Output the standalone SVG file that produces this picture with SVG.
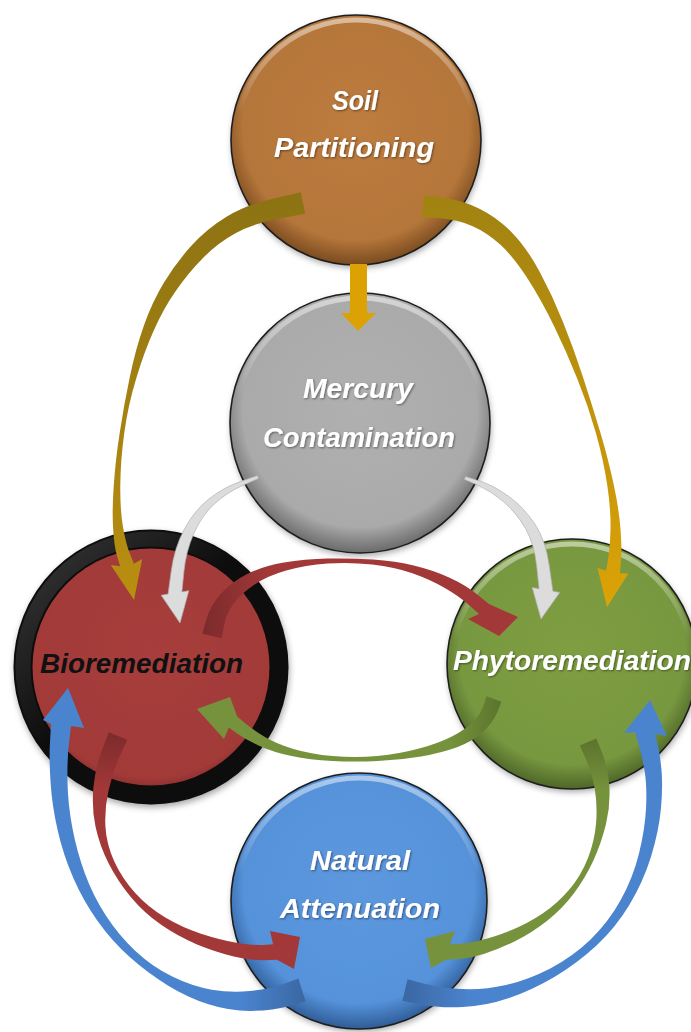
<svg xmlns="http://www.w3.org/2000/svg" width="691" height="1032" viewBox="0 0 691 1032">
<defs>
<filter id="sh" x="-20%" y="-20%" width="140%" height="140%"><feDropShadow dx="1" dy="3" stdDeviation="3" flood-color="#000" flood-opacity="0.35"/></filter>
<filter id="ts" x="-10%" y="-30%" width="120%" height="160%"><feDropShadow dx="1" dy="1" stdDeviation="1" flood-color="#000" flood-opacity="0.45"/></filter>
<radialGradient id="gSoil" cx="50%" cy="45%" r="55%"><stop offset="0" stop-color="#BD7C3F"/><stop offset="0.82" stop-color="#B5763A"/><stop offset="1" stop-color="#7A4B20"/></radialGradient>
<radialGradient id="gMerc" cx="50%" cy="45%" r="55%"><stop offset="0" stop-color="#B0B0B0"/><stop offset="0.82" stop-color="#AAAAAA"/><stop offset="1" stop-color="#6A6A6A"/></radialGradient>
<radialGradient id="gBio" cx="50%" cy="45%" r="55%"><stop offset="0" stop-color="#A73D3C"/><stop offset="0.88" stop-color="#A23A39"/><stop offset="1" stop-color="#7A2828"/></radialGradient>
<radialGradient id="gPhy" cx="50%" cy="45%" r="55%"><stop offset="0" stop-color="#7F9E42"/><stop offset="0.82" stop-color="#789840"/><stop offset="1" stop-color="#4E6628"/></radialGradient>
<radialGradient id="gNat" cx="50%" cy="45%" r="55%"><stop offset="0" stop-color="#5D98DE"/><stop offset="0.82" stop-color="#5592DA"/><stop offset="1" stop-color="#2F5C96"/></radialGradient>
<linearGradient id="hl" x1="0" y1="0" x2="0" y2="1"><stop offset="0" stop-color="#fff" stop-opacity="0.5"/><stop offset="0.4" stop-color="#fff" stop-opacity="0"/></linearGradient>
<linearGradient id="ringHl" x1="0" y1="0" x2="1" y2="1"><stop offset="0" stop-color="#fff" stop-opacity="0.18"/><stop offset="0.45" stop-color="#fff" stop-opacity="0"/></linearGradient>
<linearGradient id="goldL" gradientUnits="userSpaceOnUse" x1="0" y1="190" x2="0" y2="600"><stop offset="0" stop-color="#8C7213"/><stop offset="1" stop-color="#B98F10"/></linearGradient>
<linearGradient id="goldR" gradientUnits="userSpaceOnUse" x1="0" y1="190" x2="0" y2="610"><stop offset="0" stop-color="#A08212"/><stop offset="1" stop-color="#DDA306"/></linearGradient>
<linearGradient id="redF" gradientUnits="userSpaceOnUse" x1="200" y1="0" x2="270" y2="0"><stop offset="0" stop-color="#7A2A2B"/><stop offset="1" stop-color="#A33838"/></linearGradient>
<linearGradient id="redH" gradientUnits="userSpaceOnUse" x1="0" y1="730" x2="0" y2="790"><stop offset="0" stop-color="#7A2A2B"/><stop offset="1" stop-color="#A33838"/></linearGradient>
<linearGradient id="grnG" gradientUnits="userSpaceOnUse" x1="500" y1="0" x2="450" y2="0"><stop offset="0" stop-color="#5B752D"/><stop offset="1" stop-color="#76923C"/></linearGradient>
<linearGradient id="grnI" gradientUnits="userSpaceOnUse" x1="0" y1="740" x2="0" y2="790"><stop offset="0" stop-color="#5B752D"/><stop offset="1" stop-color="#76923C"/></linearGradient>
<linearGradient id="bluJ" gradientUnits="userSpaceOnUse" x1="310" y1="0" x2="240" y2="0"><stop offset="0" stop-color="#3A65A0"/><stop offset="1" stop-color="#4A84CF"/></linearGradient>
<linearGradient id="bluK" gradientUnits="userSpaceOnUse" x1="400" y1="0" x2="470" y2="0"><stop offset="0" stop-color="#3A65A0"/><stop offset="1" stop-color="#4A84CF"/></linearGradient>
</defs>
<style>
.rim{fill:none;stroke:#1e1e1e;stroke-width:1.6}
.hl{fill:none;stroke:url(#hl);stroke-width:5}
.lbl{font-family:"Liberation Sans",Arial,sans-serif;font-weight:bold;font-style:italic;font-size:27px;text-anchor:middle;fill:#fff;filter:url(#ts)}
.dark{fill:#111;filter:none}
.gray{fill:#DCDCDC;stroke:#B0B0B0;stroke-width:0.7}
.arr{stroke-linejoin:round}
</style>
<rect width="691" height="1032" fill="#fff"/>

<g id="soil">
<circle cx="356" cy="140" r="125" fill="url(#gSoil)" filter="url(#sh)"/>
<circle cx="356" cy="140" r="120" class="hl"/>
<circle cx="356" cy="140" r="125" class="rim"/>
<text class="lbl" x="355" y="110" textLength="46" lengthAdjust="spacingAndGlyphs">Soil</text>
<text class="lbl" x="354" y="157" textLength="160" lengthAdjust="spacingAndGlyphs">Partitioning</text>
</g>

<g id="mercury">
<circle cx="360" cy="423" r="130" fill="url(#gMerc)" filter="url(#sh)"/>
<circle cx="360" cy="423" r="125" class="hl"/>
<circle cx="360" cy="423" r="130" class="rim"/>
<text class="lbl" x="358" y="398" textLength="110" lengthAdjust="spacingAndGlyphs">Mercury</text>
<text class="lbl" x="359" y="447" textLength="192" lengthAdjust="spacingAndGlyphs">Contamination</text>
</g>

<g id="bioremediation">
<circle cx="151" cy="667" r="128" fill="url(#gBio)" stroke="#0c0c0c" stroke-width="19" filter="url(#sh)"/>
<circle cx="151" cy="667" r="128" fill="none" stroke="url(#ringHl)" stroke-width="15"/>
<text class="lbl dark" x="141.5" y="673" textLength="203" lengthAdjust="spacingAndGlyphs">Bioremediation</text>
</g>

<g id="phytoremediation">
<circle cx="572" cy="664" r="125" fill="url(#gPhy)" filter="url(#sh)"/>
<circle cx="572" cy="664" r="120" class="hl"/>
<circle cx="572" cy="664" r="125" class="rim"/>
<text class="lbl" x="572" y="670" textLength="238" lengthAdjust="spacingAndGlyphs">Phytoremediation</text>
</g>

<g id="natural_attenuation">
<circle cx="359" cy="901" r="128" fill="url(#gNat)" filter="url(#sh)"/>
<circle cx="359" cy="901" r="123" class="hl"/>
<circle cx="359" cy="901" r="128" class="rim"/>
<text class="lbl" x="360" y="870" textLength="100" lengthAdjust="spacingAndGlyphs">Natural</text>
<text class="lbl" x="360" y="918" textLength="160" lengthAdjust="spacingAndGlyphs">Attenuation</text>
</g>

<g id="connectors">
<path id="soil-mercury" fill="#DCA204" d="M350 264 L367 264 L367 313 L376 313 L358 331 L341 313 L350 313 Z"/>
<path id="soil-bio" class="arr" fill="url(#goldL)" d="M300.8 192.2 L273.7 198.4 Q246.6 204.6 226.5 216.8 Q206.4 229 191.1 246.1 Q175.7 263.1 164 282.6 Q152.2 302 144 325.3 Q135.7 348.6 129.9 376.6 Q124 404.6 119.8 432.2 Q115.5 459.8 113.8 485 Q112 510.1 113.1 528.2 Q114.1 546.2 117.1 556.3 L120.1 566.3 L110.8 564.9 L134 600 L142.2 559.1 L133.9 563.7 L129.9 553.8 Q125.9 543.8 123 526.9 Q120 509.9 120.3 485.1 Q120.5 460.2 124.3 432.8 Q128 405.4 136.2 378.4 Q144.3 351.4 154.1 329.7 Q163.8 308 176.1 290.5 Q188.3 272.9 203 258 Q217.6 243 235.5 233.2 Q253.4 223.4 279.3 218.6 L305.2 213.8 Z"/>
<path id="soil-phyto" class="arr" fill="url(#goldR)" d="M421.8 216.9 L439.6 218.3 Q457.4 219.6 472.1 226 Q486.8 232.4 500.2 244.6 Q513.6 256.8 527.7 278.8 Q541.7 300.7 554 326.1 Q566.3 351.5 577.2 378.6 Q588.1 405.6 595.9 433.1 Q603.6 460.6 607.3 485.6 Q611 510.5 610.5 529.2 Q610 547.8 608.1 559.3 L606.1 570.8 L597.5 568 L607 607 L628.5 573.5 L619.9 573.2 L621 560.7 Q622 548.2 620.5 528.9 Q619 509.5 613.7 484.5 Q608.4 459.4 600.2 431.9 Q591.9 404.4 582.8 376.5 Q573.7 348.5 563 321.9 Q552.3 295.3 539.4 271.3 Q526.4 247.2 511.8 232.4 Q497.2 217.6 480 209 Q462.7 200.4 443.5 197.8 L424.2 195.1 Z"/>
<path id="mercury-bio" class="gray" d="M257.5 475.6 L240.5 481.5 Q223.5 487.4 209 498.9 Q194.4 510.3 184.3 529.3 Q174.2 548.3 171.2 571.2 L168.1 594.1 L161.2 595.3 L180 623 L188.8 590.7 L181.9 591.9 L183.9 571.8 Q185.8 551.7 193.7 533.7 Q201.6 515.7 214.1 504.2 Q226.5 492.6 242.5 485.5 L258.5 478.4 Z"/>
<path id="mercury-phyto" class="gray" d="M464.5 479.4 L477.5 485 Q490.5 490.6 503.6 501.8 Q516.6 513 525.5 528.5 Q534.3 543.9 536.7 566.4 L539.1 588.8 L532.2 587.6 L541 619 L559.8 592.4 L552.9 591.2 L549.3 565.7 Q545.7 540.1 534.6 523.6 Q523.4 507 508.5 496.2 Q493.5 485.4 479.5 481 L465.5 476.6 Z"/>
<path id="bio-phyto" class="arr" fill="url(#redF)" d="M221.7 638.3 L223.9 626.2 Q226 614 233.4 603.9 Q240.8 593.8 253.9 585 Q266.9 576.1 286.2 570.6 Q305.4 565 327.7 563.5 Q350 562 372.3 564.5 Q394.5 566.9 412.4 573.3 Q430.2 579.6 444.8 588 Q459.4 596.4 469.2 605.2 L479 613.9 L468 619 L499 636 L518 617 L489 604.1 L477.8 594.9 Q466.6 585.6 450.2 578 Q433.8 570.4 414.7 565.8 Q395.5 561.1 372.8 559.6 Q350 558 327.3 558.5 Q304.6 559 283.9 562.5 Q263.1 565.9 247.2 574.1 Q231.2 582.2 220.6 594.1 Q210 606 206.2 619.9 L202.3 633.8 Z"/>
<path id="phyto-bio" class="arr" fill="url(#grnG)" d="M486.5 696.2 L483.7 705 Q480.8 713.8 473.5 721.5 Q466.2 729.1 452.4 736.2 Q438.5 743.2 419.1 748.6 Q399.6 754 377.3 756 Q355 758 332.7 756 Q310.4 754 293.5 748.9 Q276.5 743.8 264.9 736.9 Q253.2 729.9 245.2 723.2 L237.2 716.4 L230 697 L197 709 L224 739 L228.8 727.6 L237.8 733.9 Q246.8 740.1 260.2 746.2 Q273.5 752.2 291.6 756.1 Q309.6 760 332.3 761 Q355 762 377.7 761 Q400.4 760 421 756.4 Q441.5 752.8 457.7 746.9 Q473.8 740.9 483.5 731.6 Q493.2 722.2 497.4 712 L501.5 701.8 Z"/>
<path id="bio-natural" class="arr" fill="url(#redH)" d="M108.8 732.2 L102.1 749.9 Q95.3 767.6 93.4 787.8 Q91.5 807.9 95.6 827 Q99.7 846 108.8 863.7 Q117.9 881.4 130.8 897 Q143.7 912.6 160.8 924.6 Q177.8 936.5 197 944.4 Q216.2 952.2 233.7 956.4 Q251.2 960.5 264.1 960.2 L276.9 959.8 L294 969 L300 937 L270 931 L273.1 944.2 L263 944.9 Q252.8 945.5 236.3 942.7 Q219.8 939.8 201 933.7 Q182.2 927.5 165.3 917.5 Q148.3 907.4 135.2 893 Q122.1 878.6 114.2 861.3 Q106.3 844 105.4 826.1 Q104.5 808.1 108.6 790.3 Q112.7 772.4 120 756.1 L127.2 739.8 Z"/>
<path id="phyto-natural" class="arr" fill="url(#grnI)" d="M579.7 745.5 L585.8 758.8 Q591.8 772.1 594.7 788.5 Q597.5 804.8 596.1 822.9 Q594.6 841 587.8 858.4 Q580.9 875.7 569.3 889.6 Q557.6 903.5 542.6 913.6 Q527.5 923.7 511.1 930.3 Q494.7 936.9 480.7 940.3 Q466.6 943.6 458.3 943.9 L449.9 944.2 L455 931 L425 939 L431 968 L446.1 959.8 L457.8 959.1 Q469.4 958.4 484.4 953.8 Q499.3 949.1 515.9 940.7 Q532.5 932.3 547.5 920.4 Q562.4 908.5 573.8 893.4 Q585.1 878.3 593.3 860.7 Q601.4 843 606 824.1 Q610.5 805.2 609.4 786.6 Q608.2 767.9 602.3 753.2 L596.3 738.5 Z"/>
<path id="natural-bio" class="arr" fill="url(#bluJ)" d="M298.4 978.5 L283.3 983.9 Q268.2 989.2 249.6 991.1 Q230.9 993 211.6 989.7 Q192.2 986.4 172.3 976.6 Q152.3 966.8 135.4 951 Q118.4 935.1 105.7 915.3 Q92.9 895.4 84.8 873.2 Q76.7 851 72.3 827.5 Q67.9 804 67.5 782.1 Q67 760.1 69 743.1 L71 726 L84 728 L68 688 L43 720 L51 724 L50 742 Q49 759.9 50.6 783 Q52.1 806 57.7 830.5 Q63.3 855 73.2 877.8 Q83.1 900.6 97.4 920.8 Q111.6 940.9 129.7 957.1 Q147.7 973.2 167.8 985.4 Q187.8 997.6 208.5 1004.3 Q229.1 1011 250.5 1010.9 Q271.8 1010.8 288.7 1006.2 L305.6 1001.5 Z"/>
<path id="natural-phyto" class="arr" fill="url(#bluK)" d="M402.5 1000.7 L420.8 1004.4 Q439 1008 462.6 1007 Q486.1 1005.9 509.1 998 Q532.1 990.1 554.8 976.7 Q577.4 963.2 596.5 945.5 Q615.5 927.8 629.3 905 Q643.1 882.1 651 856.7 Q658.9 831.2 661 808.1 Q663 784.9 661.4 769.1 Q659.8 753.3 657.4 743.6 L655 733.9 L667 736 L650 700 L624 733 L635 732.1 L638.6 744.4 Q642.2 756.7 644.6 770.9 Q647 785.1 646.1 807 Q645.1 828.8 639 853.4 Q632.9 877.9 620.7 900.1 Q608.5 922.2 590.6 939.5 Q572.6 956.8 550.3 968.4 Q527.9 979.9 505.9 985 Q483.9 990.1 462.5 989.1 Q441 988 424.3 983.7 L407.5 979.3 Z"/>
</g>
</svg>
